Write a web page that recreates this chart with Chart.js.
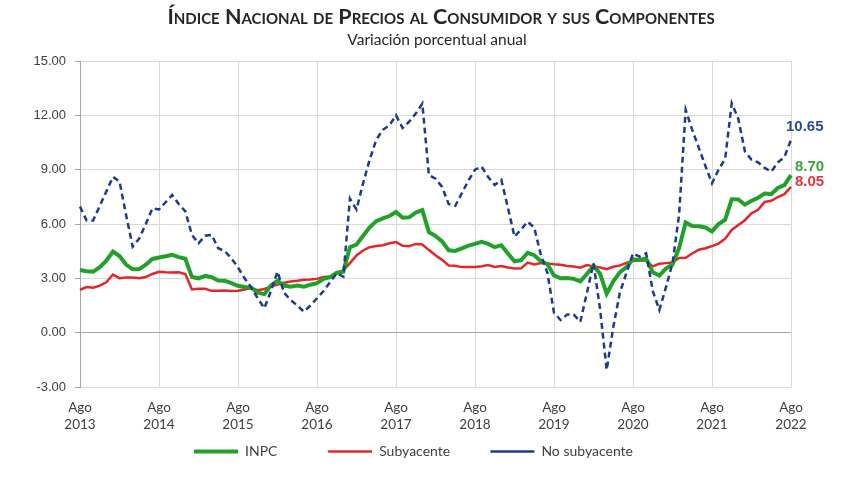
<!DOCTYPE html>
<html>
<head>
<meta charset="utf-8">
<script src="https://cdn.jsdelivr.net/npm/chart.js@4.4.1/dist/chart.umd.min.js"></script>
<style>
  html, body { margin: 0; padding: 0; background: #fff; }
  #wrap { width: 848px; height: 477px; }
</style>
</head>
<body>
<div id="wrap"><canvas id="grafico"></canvas></div>
<script>
// datos: variación porcentual anual, ago 2013 - ago 2022
const titulo = 'Índice Nacional de Precios al Consumidor y sus Componentes';
const subtitulo = 'Variación porcentual anual';
const meses = ['Ene','Feb','Mar','Abr','May','Jun','Jul','Ago','Sep','Oct','Nov','Dic'];
const anios = [2013, 2014, 2015, 2016, 2017, 2018, 2019, 2020, 2021, 2022];
const yTicks = [-3, 0, 3, 6, 9, 12, 15];

const inpc = [
  3.46, 3.39, 3.36, 3.62, 3.97,
  4.48, 4.23, 3.76, 3.50, 3.51, 3.75, 4.07, 4.15, 4.22, 4.30, 4.17, 4.08,
  3.07, 3.00, 3.14, 3.06, 2.88, 2.87, 2.74, 2.59, 2.52, 2.48, 2.21, 2.13,
  2.61, 2.87, 2.60, 2.54, 2.60, 2.54, 2.65, 2.73, 2.97, 3.06, 3.31, 3.36,
  4.72, 4.86, 5.35, 5.82, 6.16, 6.31, 6.44, 6.66, 6.35, 6.37, 6.63, 6.77,
  5.55, 5.34, 5.04, 4.55, 4.51, 4.65, 4.81, 4.90, 5.02, 4.90, 4.72, 4.83,
  4.37, 3.94, 4.00, 4.41, 4.28, 3.95, 3.78, 3.16, 3.00, 3.02, 2.97, 2.83,
  3.24, 3.70, 3.25, 2.15, 2.84, 3.33, 3.62, 4.05, 4.01, 4.09, 3.33, 3.15,
  3.54, 3.76, 4.67, 6.08, 5.89, 5.88, 5.81, 5.59, 6.00, 6.24, 7.37, 7.36,
  7.07, 7.28, 7.45, 7.68, 7.65, 7.99, 8.15, 8.70
];
const subyacente = [
  2.37, 2.52, 2.48, 2.60, 2.78,
  3.21, 3.01, 3.04, 3.05, 3.00, 3.07, 3.24, 3.36, 3.33, 3.32, 3.34, 3.24,
  2.39, 2.43, 2.42, 2.31, 2.32, 2.33, 2.30, 2.31, 2.38, 2.47, 2.34, 2.41,
  2.54, 2.65, 2.76, 2.83, 2.87, 2.92, 2.93, 2.97, 3.07, 3.10, 3.29, 3.44,
  3.84, 4.26, 4.54, 4.72, 4.78, 4.83, 4.94, 5.00, 4.80, 4.77, 4.90, 4.87,
  4.56, 4.27, 4.02, 3.71, 3.69, 3.62, 3.63, 3.63, 3.67, 3.73, 3.63, 3.68,
  3.60, 3.54, 3.55, 3.87, 3.77, 3.85, 3.82, 3.78, 3.75, 3.68, 3.65, 3.59,
  3.73, 3.66, 3.60, 3.50, 3.64, 3.71, 3.85, 3.97, 3.99, 3.98, 3.66, 3.80,
  3.84, 3.87, 4.12, 4.13, 4.37, 4.58, 4.66, 4.78, 4.92, 5.19, 5.67, 5.94,
  6.21, 6.59, 6.78, 7.22, 7.28, 7.49, 7.65, 8.05
];
const noSubyacente = [
  6.96, 6.20, 6.20, 7.00, 7.80,
  8.60, 8.35, 6.50, 4.75, 5.20, 6.00, 6.87, 6.80, 7.20, 7.60, 7.10, 6.70,
  5.40, 4.93, 5.35, 5.40, 4.66, 4.50, 4.10, 3.60, 3.00, 2.50, 1.90, 1.35,
  2.30, 3.37, 2.20, 1.80, 1.50, 1.16, 1.50, 1.90, 2.30, 2.80, 3.28, 3.10,
  7.40, 6.80, 8.25, 9.55, 10.65, 11.20, 11.45, 12.00, 11.30, 11.65, 12.10, 12.65,
  8.70, 8.50, 8.05, 7.10, 7.00, 7.70, 8.40, 9.00, 9.17, 8.60, 8.15, 8.43,
  6.90, 5.30, 5.70, 6.13, 5.80, 4.30, 3.30, 1.10, 0.70, 1.00, 1.00, 0.60,
  2.20, 3.83, 1.30, -2.06, 0.30, 2.20, 3.30, 4.38, 4.20, 4.38, 2.30, 1.25,
  2.50, 3.83, 6.50, 12.30, 11.20, 10.20, 9.20, 8.25, 9.00, 9.60, 12.67, 11.80,
  10.00, 9.55, 9.40, 9.10, 8.89, 9.40, 9.70, 10.65
];

// categorias mensuales Ago 2013 .. Ago 2022
let periodos = [];
anios.forEach((a, i) => {
  meses.forEach((m, j) => {
    if ((i === 0 && j < 7) || (i === anios.length - 1 && j > 7)) return;
    periodos.push(m + ' ' + a);
  });
});

const fuenteCal = 'Lato, "Open Sans", sans-serif';
const fuenteArial = '"Liberation Sans", Arial, sans-serif';

const tituloPlugin = {
  id: 'titulo',
  afterDraw(chart) {
    const ctx = chart.ctx;
    ctx.save();
    ctx.fillStyle = '#262626';
    ctx.textAlign = 'center';
    ctx.textBaseline = 'middle';
    ctx.font = 'small-caps bold 21.5px ' + fuenteCal;
    ctx.fillText(titulo, 441, 17);
    ctx.font = '15.5px ' + fuenteCal;
    ctx.fillText(subtitulo, 437, 40);
    ctx.restore();
  }
};

// etiquetas del ultimo dato
const finalesPlugin = {
  id: 'finales',
  afterDatasetsDraw(chart) {
    const ctx = chart.ctx;
    ctx.save();
    ctx.font = 'bold 15px ' + fuenteArial;
    ctx.textAlign = 'left';
    ctx.textBaseline = 'middle';
    chart.data.datasets.forEach((ds, i) => {
      const meta = chart.getDatasetMeta(i);
      const p = meta.data[meta.data.length - 1];
      const v = ds.data[ds.data.length - 1];
      ctx.fillStyle = ds.etiquetaColor;
      ctx.fillText(v.toFixed(2), p.x + ds.etiquetaDx, p.y + ds.etiquetaDy);
    });
    ctx.restore();
  }
};

// la leyenda va un poco a la derecha, como en el original
const leyendaPlugin = {
  id: 'leyendaDesplazada',
  afterLayout(chart) {
    chart.legend.left += 18;
    chart.legend.right += 18;
  }
};

const espacios = ['\u2003\u2003\u2003\u2002\u2009', '\u2003\u2003\u2002\u2009', ''];

const grafico = document.querySelector('#grafico');
const g = new Chart(grafico, {
  type: 'line',
  data: {
    labels: periodos,
    datasets: [
      {
        label: 'INPC',
        data: inpc,
        borderColor: '#22a12a',
        backgroundColor: '#22a12a',
        borderWidth: 4,
        order: 2,
        etiquetaColor: '#38a53a', etiquetaDx: 4, etiquetaDy: -8
      },
      {
        label: 'Subyacente',
        data: subyacente,
        borderColor: '#e3262b',
        backgroundColor: '#e3262b',
        borderWidth: 2.5,
        order: 3,
        etiquetaColor: '#e5343a', etiquetaDx: 4, etiquetaDy: -5
      },
      {
        label: 'No subyacente',
        data: noSubyacente,
        borderColor: '#1f3b87',
        backgroundColor: '#1f3b87',
        borderWidth: 2.5,
        borderDash: [6, 4],
        order: 1,
        etiquetaColor: '#2b4b98', etiquetaDx: -5, etiquetaDy: -13
      }
    ]
  },
  options: {
    responsive: true,
    maintainAspectRatio: false,
    animation: false,
    layout: { padding: { top: 61, right: 57, left: 0, bottom: 8.5 } },
    elements: { point: { radius: 0 }, line: { tension: 0 } },
    scales: {
      x: {
        afterFit: (s) => { s.height = 47; },
        grid: { color: '#d9d9d9', drawTicks: false },
        border: { color: '#d9d9d9' },
        ticks: {
          autoSkip: false,
          maxRotation: 0,
          padding: 12.9,
          color: '#404040',
          font: { family: fuenteCal, size: 13.5 },
          callback: function (val, i) {
            const et = this.getLabelForValue(val);
            return et.startsWith('Ago') ? et.split(' ') : null;
          }
        }
      },
      y: {
        min: yTicks[0],
        max: yTicks[yTicks.length - 1],
        afterFit: (s) => { s.width = 80; },
        grid: {
          color: (c) => c.tick && c.tick.value === 0 ? '#a6a6a6' : '#d9d9d9',
          tickLength: 5,
          tickColor: '#a6a6a6'
        },
        border: { color: '#a6a6a6' },
        ticks: {
          stepSize: 3,
          padding: 9,
          color: '#404040',
          font: { family: fuenteArial, size: 13 },
          callback: (v) => v.toFixed(2)
        }
      }
    },
    plugins: {
      title: { display: false },
      tooltip: { enabled: false },
      legend: {
        position: 'bottom',
        labels: {
          usePointStyle: true,
          pointStyle: 'line',
          pointStyleWidth: 44,
          padding: 10.5,
          color: '#404040',
          font: { family: fuenteCal, size: 14 },
          sort: (a, b) => a.datasetIndex - b.datasetIndex,
          generateLabels: (chart) => Chart.defaults.plugins.legend.labels.generateLabels(chart)
            .map((l) => Object.assign(l, { text: l.text + espacios[l.datasetIndex] }))
        }
      }
    }
  },
  plugins: [tituloPlugin, finalesPlugin, leyendaPlugin]
});
</script>
</body>
</html>
